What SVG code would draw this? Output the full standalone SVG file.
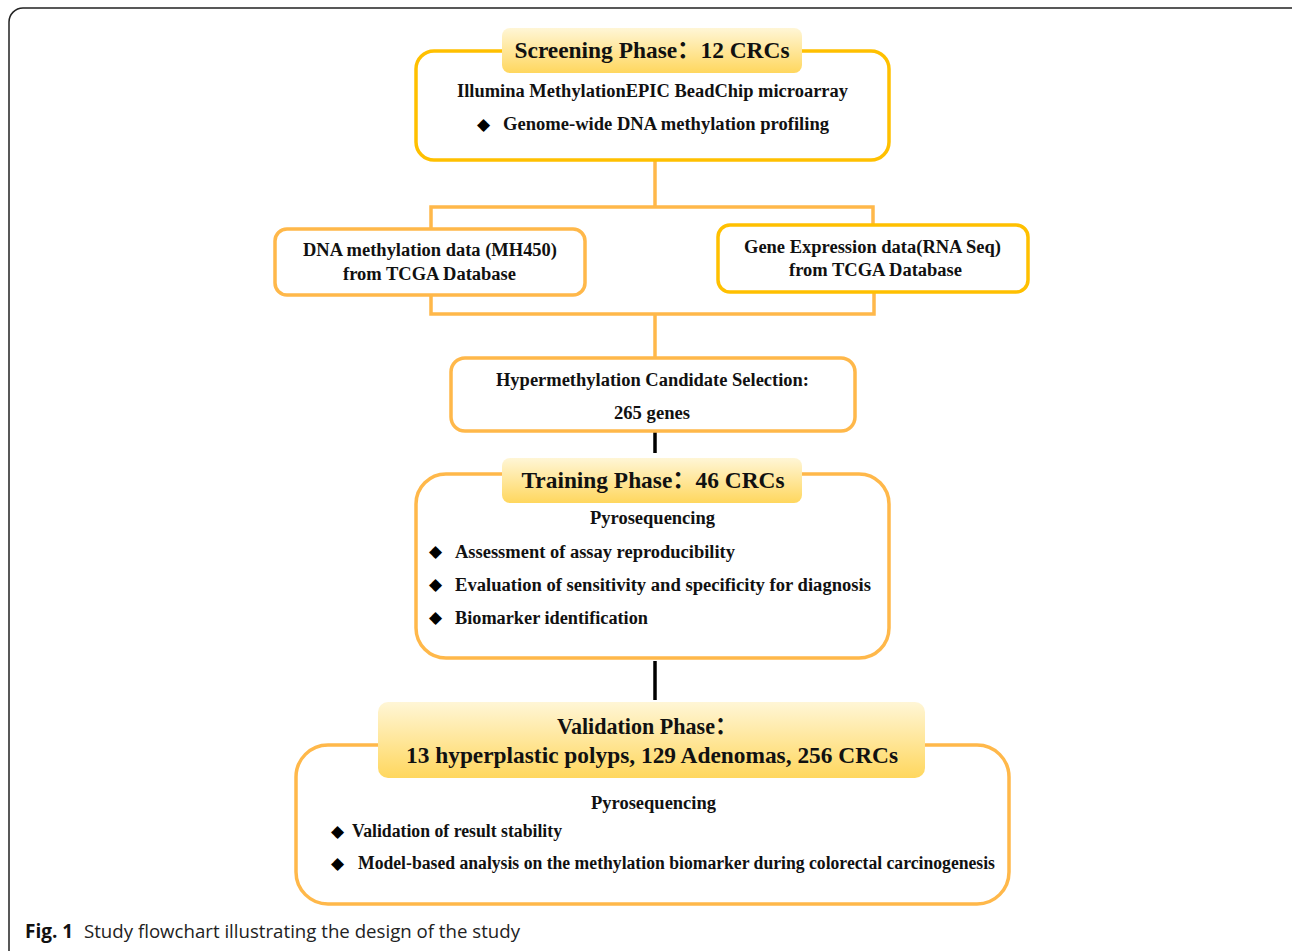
<svg xmlns="http://www.w3.org/2000/svg" width="1292" height="951" viewBox="0 0 1292 951">
<defs>
<linearGradient id="hdr" x1="0" y1="0" x2="0" y2="1">
<stop offset="0" stop-color="#FFF6D6"/>
<stop offset="1" stop-color="#FFD75E"/>
</linearGradient>
<style>
.gold{fill:#fff;stroke:#FFC000;stroke-width:3.5}
.org{fill:#fff;stroke:#FFB84A;stroke-width:3.5}
.ln{fill:none;stroke:#FFB84A;stroke-width:3.5}
.blk{fill:none;stroke:#000;stroke-width:3.5}
.hb{fill:url(#hdr)}
.t{font-family:"Liberation Serif","Noto Sans CJK SC",serif;font-weight:bold;fill:#111;font-size:18px}
.h{font-family:"Liberation Serif","Noto Sans CJK SC",serif;font-weight:bold;fill:#111;font-size:24px}
.m{text-anchor:middle}
.d{font-family:"DejaVu Sans",sans-serif;fill:#000;font-size:17px}
.cap{font-family:"Open Sans","Liberation Sans",sans-serif;fill:#222;font-size:19px}
</style>
</defs>
<rect x="9" y="8" width="1300" height="960" rx="14" fill="none" stroke="#222" stroke-width="1.5"/>

<g id="connectors">
<line class="ln" x1="655" y1="160" x2="655" y2="207"/>
<polyline class="ln" points="431,229 431,207 873,207 873,225"/>
<polyline class="ln" points="431,295 431,314 874,314 874,292"/>
<line class="ln" x1="655" y1="314" x2="655" y2="358"/>
<line class="blk" x1="655" y1="432" x2="655" y2="453"/>
<line class="blk" x1="655" y1="661" x2="655" y2="700"/>
</g>

<g id="screening">
<rect class="gold" x="416" y="51" width="473" height="109" rx="18"/>
<rect class="hb" x="502" y="28" width="300" height="45" rx="8"/>
<text class="h m" x="652" y="58" textLength="275" lengthAdjust="spacingAndGlyphs">Screening Phase：12 CRCs</text>
<text class="t" x="457" y="97" textLength="391" lengthAdjust="spacingAndGlyphs">Illumina MethylationEPIC BeadChip microarray</text>
<text class="d" x="477" y="130">◆</text>
<text class="t" x="503" y="130" textLength="326" lengthAdjust="spacingAndGlyphs">Genome-wide DNA methylation profiling</text>
</g>

<g id="tcga-methylation">
<rect class="org" x="275" y="229" width="310" height="66" rx="12"/>
<text class="t" x="303" y="256" textLength="254" lengthAdjust="spacingAndGlyphs">DNA methylation data (MH450)</text>
<text class="t" x="343" y="280" textLength="173" lengthAdjust="spacingAndGlyphs">from TCGA Database</text>
</g>

<g id="tcga-expression">
<rect class="gold" x="718" y="225" width="310" height="67" rx="12"/>
<text class="t" x="744" y="253" textLength="257" lengthAdjust="spacingAndGlyphs">Gene Expression data(RNA Seq)</text>
<text class="t" x="789" y="276" textLength="173" lengthAdjust="spacingAndGlyphs">from TCGA Database</text>
</g>

<g id="candidates">
<rect class="org" x="451" y="358" width="404" height="73" rx="14"/>
<text class="t" x="496" y="386" textLength="313" lengthAdjust="spacingAndGlyphs">Hypermethylation Candidate Selection:</text>
<text class="t" x="614" y="419" textLength="76" lengthAdjust="spacingAndGlyphs">265 genes</text>
</g>

<g id="training">
<rect class="org" x="416" y="474" width="473" height="184" rx="30"/>
<rect class="hb" x="502" y="458" width="300" height="45" rx="8"/>
<text class="h m" x="653" y="488" textLength="263" lengthAdjust="spacingAndGlyphs">Training Phase：46 CRCs</text>
<text class="t" x="590" y="524" textLength="125" lengthAdjust="spacingAndGlyphs">Pyrosequencing</text>
<text class="d" x="429" y="557">◆</text>
<text class="t" x="455" y="558" textLength="280" lengthAdjust="spacingAndGlyphs">Assessment of assay reproducibility</text>
<text class="d" x="429" y="590">◆</text>
<text class="t" x="455" y="591" textLength="416" lengthAdjust="spacingAndGlyphs">Evaluation of sensitivity and specificity for diagnosis</text>
<text class="d" x="429" y="623">◆</text>
<text class="t" x="455" y="624" textLength="193" lengthAdjust="spacingAndGlyphs">Biomarker identification</text>
</g>

<g id="validation">
<rect class="org" x="296" y="745" width="713" height="159" rx="32"/>
<rect class="hb" x="378" y="702" width="547" height="76" rx="10"/>
<text class="h" x="557" y="734" textLength="180" lengthAdjust="spacingAndGlyphs">Validation Phase：</text>
<text class="h" x="406" y="763" textLength="492" lengthAdjust="spacingAndGlyphs">13 hyperplastic polyps, 129 Adenomas, 256 CRCs</text>
<text class="t" x="591" y="809" textLength="125" lengthAdjust="spacingAndGlyphs">Pyrosequencing</text>
<text class="d" x="331" y="837">◆</text>
<text class="t" x="352" y="837" textLength="210" lengthAdjust="spacingAndGlyphs">Validation of result stability</text>
<text class="d" x="331" y="869">◆</text>
<text class="t" x="358" y="869" textLength="637" lengthAdjust="spacingAndGlyphs">Model-based analysis on the methylation biomarker during colorectal carcinogenesis</text>
</g>

<g id="caption">
<text class="cap" x="25" y="938"><tspan font-weight="bold" fill="#111">Fig. 1</tspan><tspan x="84" textLength="436" lengthAdjust="spacingAndGlyphs">Study flowchart illustrating the design of the study</tspan></text>
</g>
</svg>
